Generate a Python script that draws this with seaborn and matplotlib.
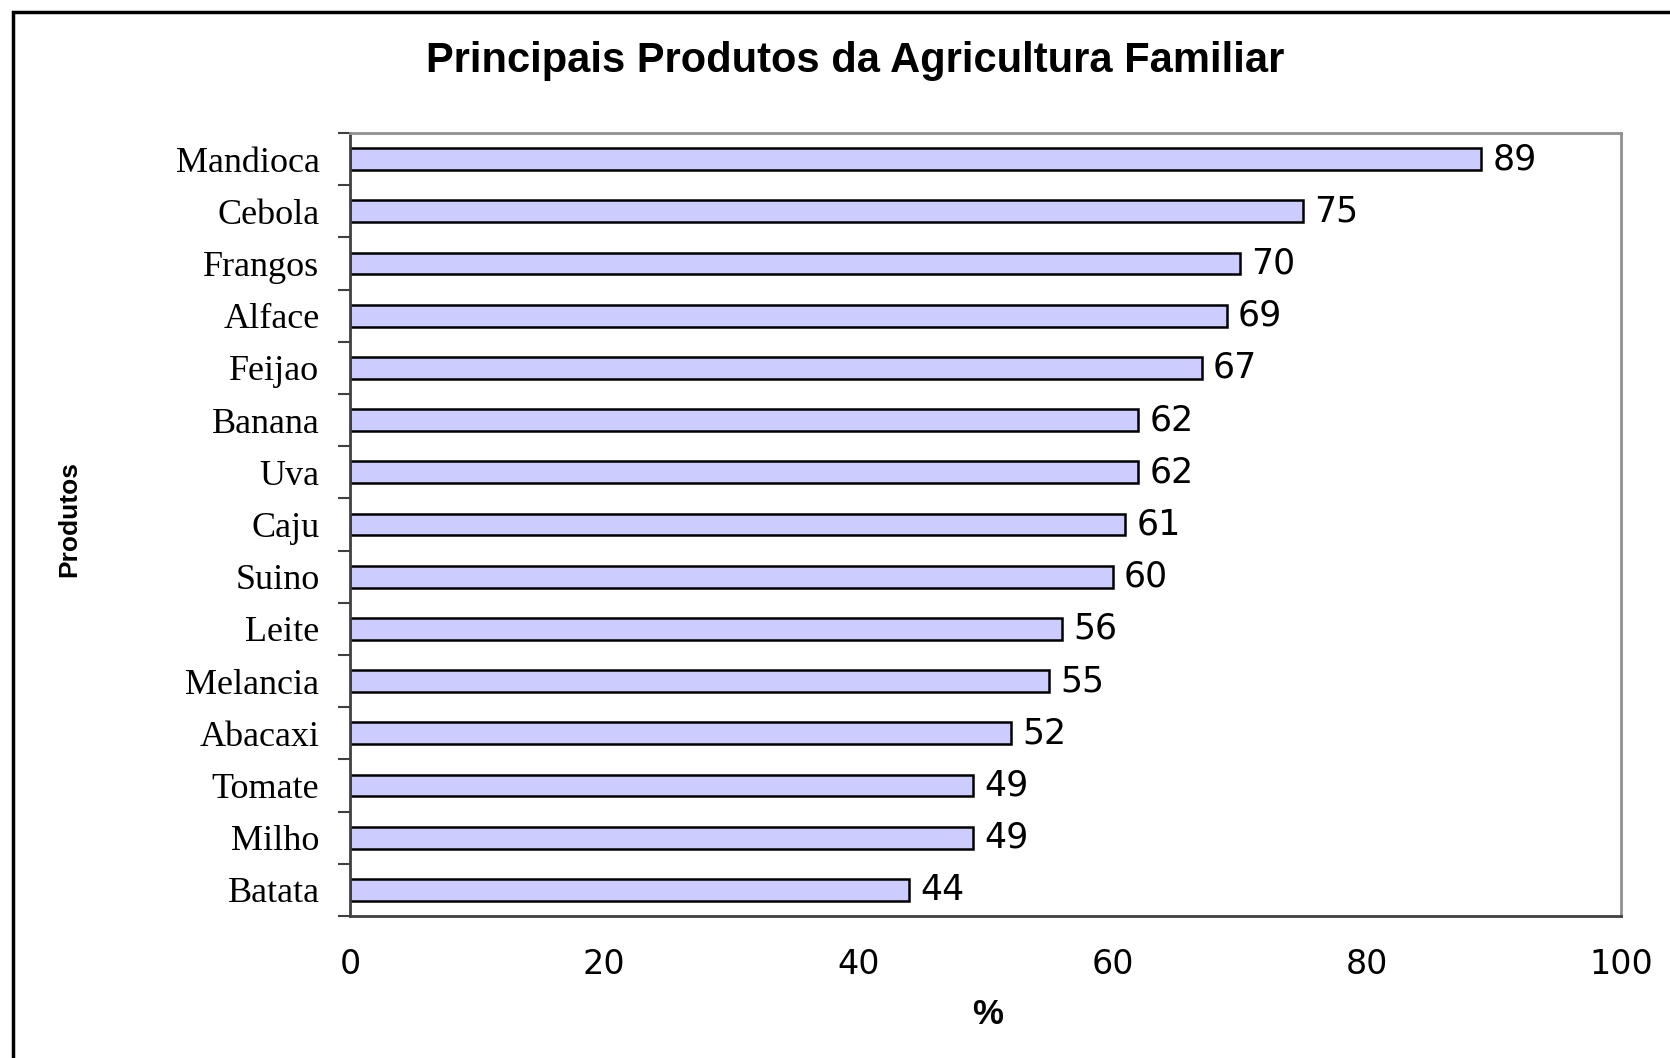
import seaborn as sns
import matplotlib.pyplot as plt
from matplotlib.patches import Rectangle
from matplotlib.ticker import FixedLocator

# dados do grafico
produtos = ['Mandioca', 'Cebola', 'Frangos', 'Alface', 'Feijao', 'Banana', 'Uva',
            'Caju', 'Suino', 'Leite', 'Melancia', 'Abacaxi', 'Tomate', 'Milho', 'Batata']
percentual = [89, 75, 70, 69, 67, 62, 62, 61, 60, 56, 55, 52, 49, 49, 44]
x_ticks = [0, 20, 40, 60, 80, 100]

sns.set_style('white')
plt.rcParams['text.color'] = 'black'
plt.rcParams['xtick.color'] = 'black'
plt.rcParams['ytick.color'] = 'black'

fig = plt.figure(figsize=(16.7, 10.58), dpi=100)
ax = fig.add_axes([350 / 1670, 1 - 916 / 1058, (1621 - 350) / 1670, (916 - 133) / 1058])

sns.barplot(x=percentual, y=produtos, orient='h', color='#CCCCFF', saturation=1,
            edgecolor='black', linewidth=1.8, width=0.42, ax=ax)

# rotulos de valor
for i, v in enumerate(percentual):
    ax.annotate(str(v), xy=(v, i), xytext=(8, 0), textcoords='offset points',
                va='center', ha='left', fontsize=25, family='DejaVu Sans', color='black')

ax.set_xlim(0, 100)
ax.set_ylim(len(produtos) - 0.5, -0.5)
ax.set_xticks(x_ticks)
ax.set_xticklabels([str(t) for t in x_ticks], fontsize=24, family='DejaVu Sans')
ax.tick_params(axis='x', length=8, width=1.5, color='#404040', pad=15, direction='out')

# marcas do eixo y entre as categorias
ax.tick_params(axis='y', which='major', length=0, pad=22)
ax.yaxis.set_minor_locator(FixedLocator([i - 0.5 for i in range(len(produtos) + 1)]))
ax.tick_params(axis='y', which='minor', length=9, width=1.5, color='#404040', direction='out', left=True)
for lbl in ax.get_yticklabels():
    lbl.set_fontsize(26)
    lbl.set_family('Liberation Serif')

ax.set_xlabel('')
ax.set_ylabel('')

for side in ['left', 'bottom']:
    ax.spines[side].set_color('#404040')
    ax.spines[side].set_linewidth(2)
for side in ['top', 'right']:
    ax.spines[side].set_color('#909090')
    ax.spines[side].set_linewidth(2)

fig.text(0.512, 1 - 61 / 1058, 'Principais Produtos da Agricultura Familiar',
         ha='center', va='center', fontsize=30, fontweight='bold', family='Liberation Sans')
fig.text(988 / 1670, 1 - 1014 / 1058, '%', ha='center', va='center',
         fontsize=25, fontweight='bold', family='Liberation Sans')
fig.text(69 / 1670, 1 - 519 / 1058, 'Produtos', ha='center', va='center', rotation=90,
         fontsize=19, fontweight='bold', family='Liberation Sans')

# moldura externa
fig.patches.append(Rectangle((13 / 1670, -0.05), 1.2, 1 - 12 / 1058 + 0.05,
                             transform=fig.transFigure, fill=False,
                             edgecolor='black', linewidth=2.5))

plt.savefig('out.png', dpi=100)
